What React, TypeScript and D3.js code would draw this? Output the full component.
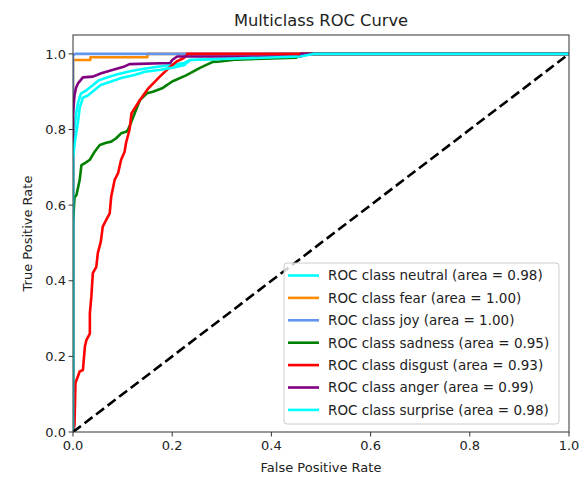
import React from "react";
import * as d3 from "d3";

const classNames = ["neutral", "fear", "joy", "sadness", "disgust", "anger", "surprise"];
const areas = ["0.98", "1.00", "1.00", "0.95", "0.93", "0.99", "0.98"];
const colors = ["#00FFFF", "#FF8C00", "#6495ED", "#008000", "#FF0000", "#800080", "#00FFFF"];

const fprNeutral = [0, 0, 0.002, 0.006, 0.01, 0.016, 0.025, 0.04, 0.052, 0.07, 0.09, 0.115, 0.14, 0.17, 0.2, 0.225, 0.236, 0.33, 0.39, 0.39, 1];
const tprNeutral = [0, 0.74, 0.79, 0.84, 0.87, 0.895, 0.902, 0.917, 0.93, 0.938, 0.946, 0.954, 0.96, 0.966, 0.971, 0.976, 0.984, 0.988, 0.99, 1, 1];

const fprFear = [0, 0, 0.035, 0.035, 0.15, 0.15, 1];
const tprFear = [0, 0.984, 0.984, 0.991, 0.991, 1, 1];

const fprJoy = [0, 0, 0.004, 1];
const tprJoy = [0, 0.995, 1, 1];

const fprSadness = [0, 0, 0.003, 0.007, 0.0135, 0.017, 0.024, 0.034, 0.044, 0.054, 0.067, 0.077, 0.087, 0.097, 0.107, 0.111, 0.115, 0.135, 0.149, 0.161, 0.181, 0.2, 0.229, 0.256, 0.282, 0.296, 0.33, 0.4, 0.45, 0.46, 1];
const tprSadness = [0, 0.55, 0.62, 0.627, 0.667, 0.706, 0.711, 0.72, 0.742, 0.759, 0.765, 0.768, 0.777, 0.79, 0.794, 0.8, 0.812, 0.878, 0.896, 0.9, 0.91, 0.927, 0.944, 0.963, 0.979, 0.98, 0.985, 0.988, 0.99, 1, 1];

const fprDisgust = [0, 0.003, 0.005, 0.0135, 0.02, 0.024, 0.027, 0.034, 0.034, 0.037, 0.04, 0.047, 0.05, 0.056, 0.06, 0.067, 0.074, 0.077, 0.084, 0.091, 0.097, 0.104, 0.107, 0.114, 0.118, 0.135, 0.152, 0.175, 0.196, 0.209, 0.222, 0.23, 0.23, 1];
const tprDisgust = [0, 0.018, 0.13, 0.16, 0.164, 0.226, 0.243, 0.26, 0.314, 0.358, 0.42, 0.437, 0.473, 0.503, 0.543, 0.561, 0.578, 0.622, 0.667, 0.685, 0.72, 0.741, 0.765, 0.8, 0.843, 0.878, 0.909, 0.94, 0.966, 0.98, 0.988, 0.997, 1, 1];

const fprAnger = [0, 0, 0.003, 0.006, 0.01, 0.02, 0.04, 0.057, 0.081, 0.104, 0.114, 0.196, 0.2, 0.21, 0.46, 0.46, 1];
const tprAnger = [0, 0.84, 0.89, 0.91, 0.922, 0.938, 0.94, 0.949, 0.958, 0.967, 0.973, 0.976, 0.984, 0.993, 0.993, 1, 1];

const fprSurprise = [0, 0, 0.003, 0.01, 0.0135, 0.02, 0.03, 0.044, 0.056, 0.077, 0.097, 0.124, 0.145, 0.177, 0.198, 0.225, 0.236, 0.33, 0.458, 0.484, 1];
const tprSurprise = [0, 0.72, 0.76, 0.82, 0.857, 0.884, 0.89, 0.905, 0.918, 0.927, 0.936, 0.944, 0.953, 0.958, 0.963, 0.971, 0.984, 0.988, 0.993, 1, 1];

const fprs = [fprNeutral, fprFear, fprJoy, fprSadness, fprDisgust, fprAnger, fprSurprise];
const tprs = [tprNeutral, tprFear, tprJoy, tprSadness, tprDisgust, tprAnger, tprSurprise];

const xTicks = [0, 0.2, 0.4, 0.6, 0.8, 1.0];
const yTicks = [0, 0.2, 0.4, 0.6, 0.8, 1.0];

const W = 584;
const H = 478;
const M = { left: 73, right: 569, top: 35, bottom: 432 };
const FONT = "'DejaVu Sans', sans-serif";

export default function App() {
  const x = d3.scaleLinear().domain([0, 1]).range([M.left, M.right]);
  const y = d3.scaleLinear().domain([0, 1.05]).range([M.bottom, M.top]);
  const line = d3
    .line<[number, number]>()
    .x((d) => x(d[0]))
    .y((d) => y(d[1]));

  const legX = 284;
  const legY = 263;
  const legW = 275;
  const legH = 161;
  const rowH = 22.4;

  return (
    <svg width={W} height={H} style={{ position: "absolute", left: 0, top: 0, background: "#fff" }}>
      <defs>
        <clipPath id="plotclip">
          <rect x={M.left} y={M.top} width={M.right - M.left} height={M.bottom - M.top} />
        </clipPath>
      </defs>
      <rect x={0} y={0} width={W} height={H} fill="#fff" />
      <text x={(M.left + M.right) / 2} y={25.5} textAnchor="middle" fontFamily={FONT} fontSize={16.3} fill="#222">
        Multiclass ROC Curve
      </text>
      <g clipPath="url(#plotclip)">
        {fprs.map((f, i) => (
          <path
            key={i}
            d={line(f.map((v, j) => [v, tprs[i][j]]) as [number, number][]) || ""}
            fill="none"
            stroke={colors[i]}
            strokeWidth={2.6}
            strokeLinejoin="round"
          />
        ))}
        <path
          d={line([[0, 0], [1, 1]]) || ""}
          fill="none"
          stroke="#000"
          strokeWidth={2.6}
          strokeDasharray="10,4.5"
        />
      </g>
      <rect
        x={M.left}
        y={M.top}
        width={M.right - M.left}
        height={M.bottom - M.top}
        fill="none"
        stroke="#333"
        strokeWidth={1}
      />
      {xTicks.map((t) => (
        <g key={"x" + t}>
          <line x1={x(t)} x2={x(t)} y1={M.bottom} y2={M.bottom + 4.5} stroke="#333" strokeWidth={1} />
          <text x={x(t)} y={M.bottom + 18} textAnchor="middle" fontFamily={FONT} fontSize={13} fill="#222">
            {t.toFixed(1)}
          </text>
        </g>
      ))}
      {yTicks.map((t) => (
        <g key={"y" + t}>
          <line x1={M.left - 4.5} x2={M.left} y1={y(t)} y2={y(t)} stroke="#333" strokeWidth={1} />
          <text x={M.left - 7} y={y(t) + 4.7} textAnchor="end" fontFamily={FONT} fontSize={13} fill="#222">
            {t.toFixed(1)}
          </text>
        </g>
      ))}
      <text x={(M.left + M.right) / 2} y={472} textAnchor="middle" fontFamily={FONT} fontSize={13} fill="#222">
        False Positive Rate
      </text>
      <text
        transform={`translate(32, ${(M.top + M.bottom) / 2}) rotate(-90)`}
        textAnchor="middle"
        fontFamily={FONT}
        fontSize={13}
        fill="#222"
      >
        True Positive Rate
      </text>
      <rect x={legX} y={legY} width={legW} height={legH} rx={3} fill="#fff" fillOpacity={0.8} stroke="#ccc" strokeWidth={1} />
      {classNames.map((c, i) => (
        <g key={c}>
          <line
            x1={legX + 4}
            x2={legX + 35}
            y1={legY + 12.5 + i * rowH}
            y2={legY + 12.5 + i * rowH}
            stroke={colors[i]}
            strokeWidth={2.6}
          />
          <text x={legX + 44} y={legY + 12.5 + i * rowH + 4.8} fontFamily={FONT} fontSize={13.5} fill="#222">
            {`ROC class ${c} (area = ${areas[i]})`}
          </text>
        </g>
      ))}
    </svg>
  );
}
